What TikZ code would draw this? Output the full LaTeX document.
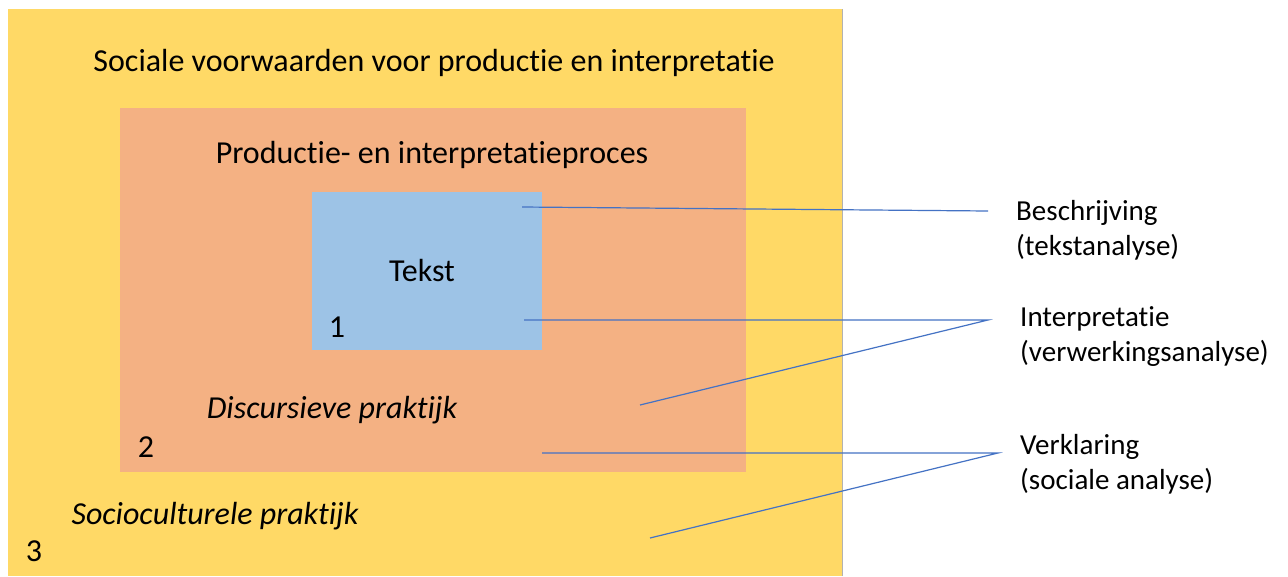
\documentclass[tikz,border=0pt]{standalone}
\usepackage{fontspec}
\setmainfont[Ligatures=NoCommon]{Carlito}
\definecolor{ylw}{HTML}{FFD966}
\definecolor{org}{HTML}{F4B183}
\definecolor{blu}{HTML}{9DC3E6}
\definecolor{lin}{HTML}{4472C4}
\begin{document}
\begin{tikzpicture}[x=1pt,y=-1pt,
  txt/.style={inner sep=0pt, font=\fontsize{32}{36}\selectfont},
  itx/.style={inner sep=0pt, font=\fontsize{32}{36}\selectfont\itshape},
  lbl/.style={inner sep=0pt, anchor=west, align=left, font=\fontsize{29}{35}\selectfont},
  con/.style={draw=lin, line width=1.2pt}]
\useasboundingbox (0,0) rectangle (1288,576);
\fill[white] (0,0) rectangle (1288,576);
% boxes
\fill[ylw] (8,9) rectangle (842,576);
\draw[gray!60, line width=1pt] (842,9) -- (842,576);
\fill[org] (120,108) rectangle (746,472);
\fill[blu] (312,192) rectangle (542,350);
% texts
\node[txt] (t3) at (434,63) {Sociale voorwaarden voor productie en interpretatie};
\node[txt] (t2) at (432,155) {Productie- en interpretatieproces};
\node[txt] (t1) at (422,271) {Tekst};
\node[txt] (n1) at (337,327) {1};
\node[itx] (d2) at (332,410) {Discursieve praktijk};
\node[txt] (n2) at (146,447) {2};
\node[itx] (s3) at (215,516) {Socioculturele praktijk};
\node[txt] (n3) at (34,551) {3};
\node[lbl] (lb) at (1016,230) {Beschrijving\\(tekstanalyse)};
\node[lbl] (li) at (1020,337) {Interpretatie\\(verwerkingsanalyse)};
\node[lbl] (lv) at (1020,464) {Verklaring\\(sociale analyse)};
% connector points
\coordinate (a1) at (522,207);
\coordinate (b1) at (988,211);
\coordinate (a2) at (524,320);
\coordinate (b2) at (988,320);
\coordinate (c2) at (640,405);
\coordinate (a3) at (542,453);
\coordinate (b3) at (998,453);
\coordinate (c3) at (650,538);
\draw[con] (a1) -- (b1);
\draw[con] (a2) -- (b2) -- (c2);
\draw[con] (a3) -- (b3) -- (c3);
\end{tikzpicture}
\end{document}
